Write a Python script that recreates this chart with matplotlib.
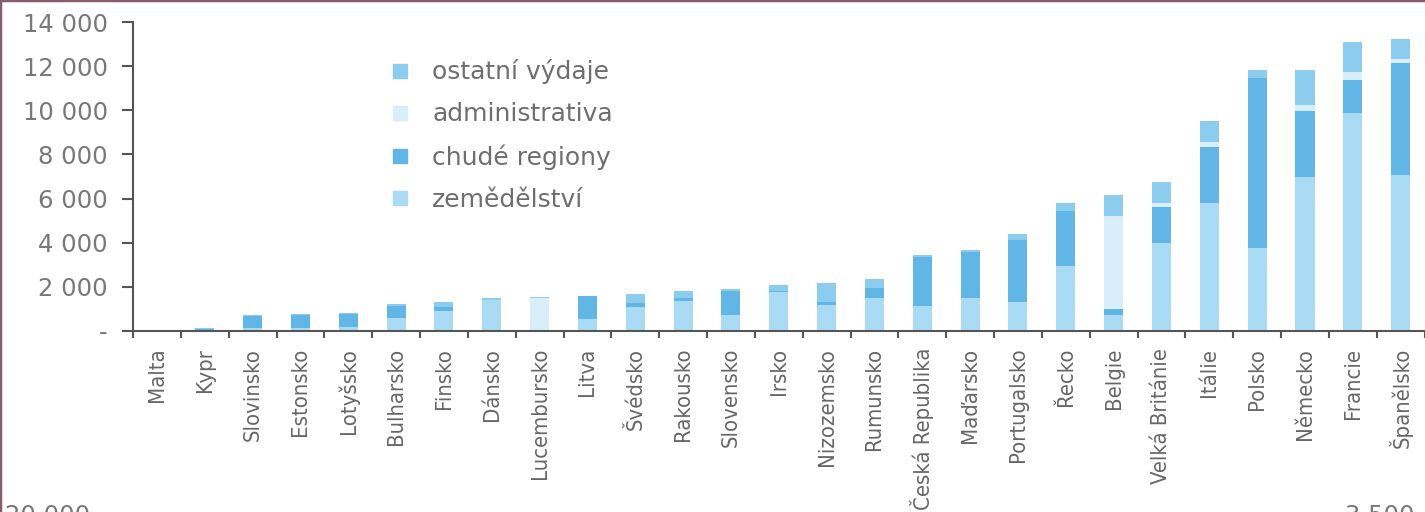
import matplotlib
matplotlib.use('Agg')
import matplotlib.pyplot as plt
from matplotlib import font_manager
import numpy as np
from matplotlib.lines import Line2D

countries = ['Malta', 'Kypr', 'Slovinsko', 'Estonsko', 'Lotyšsko', 'Bulharsko', 'Finsko',
             'Dánsko', 'Lucembursko', 'Litva', 'Švédsko', 'Rakousko', 'Slovensko', 'Irsko',
             'Nizozemsko', 'Rumunsko', 'Česká Republika', 'Maďarsko', 'Portugalsko', 'Řecko',
             'Belgie', 'Velká Británie', 'Itálie', 'Polsko', 'Německo', 'Francie', 'Španělsko']

zemedelstvi = [20, 60, 150, 150, 180, 575, 920, 1400, 30, 530, 1100, 1360, 725, 1780,
               1180, 1480, 1130, 1480, 1330, 2960, 725, 4000, 5790, 3750, 6990, 9890, 7070]
chude_regiony = [10, 40, 530, 560, 580, 555, 150, 0, 0, 1060, 150, 120, 1100, 40,
                 150, 450, 2230, 2110, 2800, 2490, 255, 1630, 2560, 7700, 2990, 1480, 5090]
administrativa = [0, 0, 0, 0, 0, 0, 0, 0, 1450, 0, 0, 0, 0, 0,
                  0, 0, 0, 0, 0, 0, 4230, 180, 230, 0, 260, 380, 150]
ostatni = [10, 30, 40, 60, 70, 90, 230, 110, 70, 10, 430, 350, 70, 260,
           830, 410, 80, 80, 250, 340, 950, 930, 950, 380, 1590, 1360, 910]

series = [zemedelstvi, chude_regiony, administrativa, ostatni]
labels = ['zemědělství', 'chudé regiony', 'administrativa', 'ostatní výdaje']
colors = ['#aadbf4', '#62b6e6', '#d8eff9', '#8cccee']

# narrow font for the country names, whichever is there
fonts = font_manager.fontManager.ttflist
if any(f.name == 'Liberation Sans Narrow' for f in fonts):
    xfont = dict(family='Liberation Sans Narrow', fontsize=19)
elif any(f.name == 'DejaVu Sans' and f.stretch == 'condensed' for f in fonts):
    xfont = dict(family='DejaVu Sans', fontstretch='condensed', fontsize=15.8)
else:
    xfont = dict(family='Liberation Sans', fontsize=15)

W, H = 1425, 512
fig = plt.figure(figsize=(W / 100, H / 100), dpi=100)
ax = fig.add_axes([133 / W, 181 / H, 1292 / W, 309 / H])

x = np.arange(len(countries))
bottom = np.zeros(len(countries))
for vals, col in zip(series, colors):
    ax.bar(x, vals, 0.4, bottom=bottom, color=col)
    bottom += np.array(vals)

ax.set_xlim(-0.46, 26.51)
ax.set_ylim(0, 14000)

yt = np.arange(0, 14001, 2000)
ax.set_yticks(yt)
ax.set_yticklabels(['-'] + [f'{v:,}'.replace(',', ' ') for v in yt[1:]],
                   fontsize=17.5, color='#787878')
ax.tick_params(axis='y', length=8, width=1.5, color='#555555', pad=10)

ax.set_xticks(np.arange(-0.5, 26.6, 1))
ax.set_xticklabels([])
ax.tick_params(axis='x', which='major', length=5, width=1.5, color='#555555')
ax.set_xticks(x, minor=True)
ax.set_xticklabels(countries, minor=True, rotation=90, va='top', ha='center',
                   color='#666666', **xfont)
ax.tick_params(axis='x', which='minor', length=0, pad=12)

for s in ['top', 'right']:
    ax.spines[s].set_visible(False)
for s in ['left', 'bottom']:
    ax.spines[s].set_color('#555555')
    ax.spines[s].set_linewidth(1.5)

handles = [Line2D([], [], marker='s', ls='', color=c, markersize=10) for c in colors[::-1]]
ax.legend(handles, labels[::-1], loc='upper left', bbox_to_anchor=(0.199, 0.879),
          frameon=False, fontsize=18, labelcolor='#6e6e6e', borderpad=0,
          handlelength=0.8, handletextpad=0.88, labelspacing=0.72, borderaxespad=0)

# cut-off labels from the next chart below
fig.text(5 / W, -0.022, '20 000', fontsize=17.5, color='#787878', va='baseline', ha='left')
fig.text(1345 / W, -0.022, '3 500', fontsize=17.5, color='#787878', va='baseline', ha='left')

# scan frame
fig.add_artist(Line2D([0, 0], [0, 1], transform=fig.transFigure, color='#8b5b6e', lw=2.5))
fig.add_artist(Line2D([0, 1], [1, 1], transform=fig.transFigure, color='#8b5b6e', lw=2.5))

fig.savefig('out.png', dpi=100)
